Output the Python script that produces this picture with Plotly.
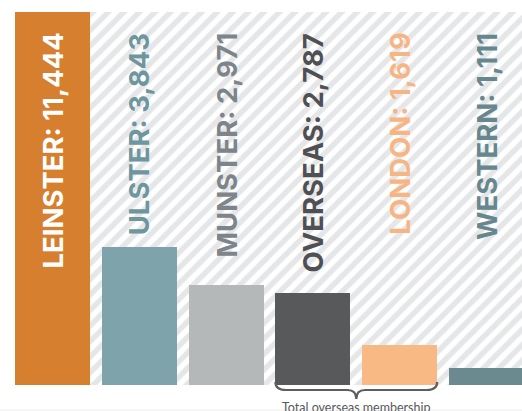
import plotly.graph_objects as go

regions = ["LEINSTER", "ULSTER", "MUNSTER", "OVERSEAS", "LONDON", "WESTERN"]
members = [11444, 3843, 2971, 2787, 1619, 1111]
bar_colors = ["#d6802f", "#7fa3aa", "#b5b8b9", "#58595b", "#f9b984", "#6a8a90"]
label_colors = ["#ffffff", "#6e969e", "#7d858a", "#4f5053", "#f8b584", "#66878d"]
brace_text = "Total overseas membership"

W, H = 522, 411
ML, MR, MT, MB = 15, 0, 12, 26
plot_h = H - MT - MB

x_pos = list(range(len(regions)))
bar_w = 0.864
x_range = [-0.432, 5.409]
y_range = [720, 9138]

def py(pix):
    return 1 - (pix - MT) / plot_h

fig = go.Figure()

# striped background
fig.add_trace(go.Bar(
    x=[2.5], y=[y_range[1] * 2], base=[0], width=[20],
    marker=dict(color="white", line=dict(width=0),
                pattern=dict(shape="/", fgcolor="#e5e6e8", bgcolor="#ffffff",
                             size=11, solidity=0.5, fillmode="replace")),
    hoverinfo="skip", showlegend=False,
))

fig.add_trace(go.Bar(
    x=x_pos, y=members, width=bar_w,
    marker=dict(color=bar_colors, line=dict(width=0)),
    hoverinfo="skip", showlegend=False,
))

for i, (r, v) in enumerate(zip(regions, members)):
    fig.add_annotation(
        x=i, y=py(31), xref="x", yref="paper",
        text=f"{r}: {v:,}", showarrow=False, textangle=-90,
        xanchor="center", yanchor="top",
        font=dict(family="Inter", size=27.5, color=label_colors[i], weight=700),
    )

# brace under overseas + london
x0 = 3 - bar_w / 2
x1 = 4 + bar_w / 2
xm = 3.5
ya, yb, yc = py(382), py(390), py(399)
path = (f"M {x0},{ya} Q {x0},{yb} {x0+0.12},{yb} L {xm-0.1},{yb} "
        f"Q {xm},{yb} {xm},{yc} Q {xm},{yb} {xm+0.1},{yb} "
        f"L {x1-0.12},{yb} Q {x1},{yb} {x1},{ya}")
fig.add_shape(type="path", path=path, xref="x", yref="paper",
              line=dict(color="#5d5e61", width=2.2))

fig.add_annotation(
    x=xm, y=py(398), xref="x", yref="paper", text=brace_text,
    showarrow=False, xanchor="center", yanchor="top",
    font=dict(family="Lato", size=12.5, color="#58595b"),
)

fig.add_shape(type="line", xref="paper", yref="paper",
              x0=-0.05, x1=1.05, y0=py(410), y1=py(410),
              line=dict(color="#eeeeee", width=1))

fig.update_layout(
    width=W, height=H,
    margin=dict(l=ML, r=MR, t=MT, b=MB, pad=0),
    paper_bgcolor="white", plot_bgcolor="white",
    barmode="overlay", bargap=0,
    xaxis=dict(range=x_range, visible=False, fixedrange=True),
    yaxis=dict(range=y_range, visible=False, fixedrange=True),
    showlegend=False,
)

fig.write_html("out.html", config={"displayModeBar": False})
